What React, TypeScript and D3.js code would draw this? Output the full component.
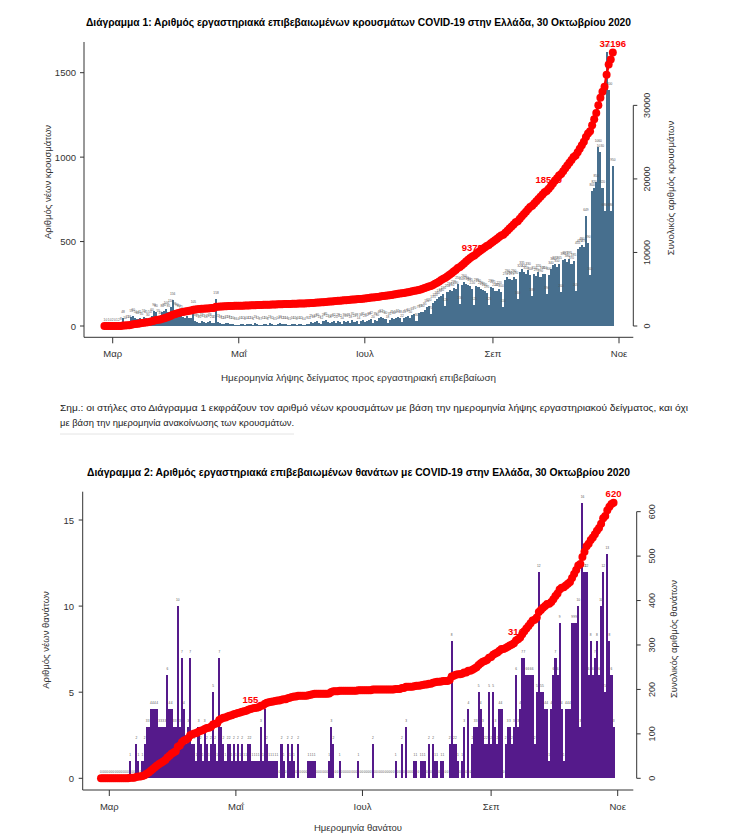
import * as d3 from "d3";

// ---- data ----
const START_DATE = "2020-02-26";
const MONTH_TICKS = ["2020-03-01", "2020-05-01", "2020-07-01", "2020-09-01", "2020-11-01"];
const MONTH_LABELS = ["Μαρ", "Μαΐ", "Ιουλ", "Σεπ", "Νοε"];

// new lab-confirmed cases per sampling day, Feb 26 – Oct 29
const NEW_CASES = [
  // Feb 26 – Mar 4
  1, 0, 1, 0, 2, 0, 1, 2,
  // Mar 5 – 11
  8, 48, 10, 15, 18, 55, 60,
  // Mar 12 – 18
  50, 40, 45, 35, 55, 45, 30,
  // Mar 19 – 24
  50, 60, 90, 80, 55, 40,
  // Mar 25 – Apr 3
  80, 90, 100, 85, 110, 156, 95, 90, 80, 75,
  // Apr 4 – 9
  55, 50, 60, 45, 50, 105,
  // Apr 10 – 19
  30, 25, 20, 32, 22, 15, 25, 28, 20, 15,
  // Apr 20
  158,
  // Apr 21 – 26
  22, 18, 12, 10, 15, 18,
  // Apr 27 – May 12
  12, 10, 8, 6, 4, 10, 12, 8, 14, 12, 10, 6, 15, 12, 8, 7,
  // May 13 – 28
  12, 10, 8, 15, 12, 6, 5, 14, 16, 12, 10, 14, 6, 5, 10, 12,
  // May 29 – Jun 13
  8, 10, 12, 6, 4, 9, 14, 25, 18, 22, 30, 15, 12, 28, 35, 22,
  // Jun 14 – 26
  18, 25, 32, 20, 28, 22, 14, 30, 25, 28, 18, 35, 22,
  // Jun 27 – Jul 12
  28, 14, 30, 35, 25, 32, 38, 42, 20, 35, 30, 48, 52, 45, 40, 18,
  // Jul 13 – 28
  35, 45, 40, 50, 55, 48, 22, 45, 55, 60, 50, 65, 70, 30, 75, 85,
  // Jul 29 – Aug 23
  80, 95, 110, 120, 70, 135, 150, 160, 170, 180, 190, 120, 200,
  215, 210, 225, 220, 250, 130, 245, 260, 250, 240, 235, 220, 125,
  // Aug 24 – 30
  235, 230, 220, 215, 205, 195, 125,
  // Aug 31 – Sep 6
  230, 225, 210, 205, 220, 200, 110,
  // Sep 7 – 13
  270, 290, 280, 275, 290, 280, 160,
  // Sep 14 – 20
  320, 335, 320, 310, 330, 300, 180,
  // Sep 21 – 27
  310, 295, 320, 290, 305, 310, 190,
  // Sep 28 – Oct 4
  300, 340, 360, 370, 350, 365, 200,
  // Oct 5 – 11
  390, 395, 380, 395, 370, 385, 205,
  // Oct 12 – 18
  455, 470, 480, 470, 649, 490, 300,
  // Oct 19 – 25
  800, 820, 850, 1060, 1030, 820, 680,
  // Oct 26 – 29
  1620, 1400, 680, 950,
];

// new lab-confirmed deaths per day of death, Feb 26 – Oct 30
const NEW_DEATHS = [
  0, 0, 0, 0, 0, 0, 0, 0, 0, 0,
  0, 0, 0, 0, 1, 0, 0, 2, 1, 0,
  1, 2, 3, 3, 4, 4, 4, 4, 3, 3,
  3, 3, 6, 4, 4, 3, 3, 10, 3, 7,
  4, 2, 3, 7, 2, 2, 1, 3, 2, 1,
  3, 2, 1, 2, 5, 2, 1, 7, 3, 2,
  1, 2, 2, 1, 2, 1, 2, 1, 2, 1,
  1, 2, 2, 1, 1, 1, 1, 3, 1, 4,
  2, 1, 1, 1, 1, 1, 0, 2, 1, 0,
  2, 1, 2, 1, 0, 2, 0, 0, 0, 0,
  1, 1, 1, 1, 0, 0, 0, 0, 0, 0,
  1, 3, 2, 0, 0, 1, 0, 0, 0, 0,
  0, 0, 0, 0, 1, 0, 0, 0, 0, 0,
  0, 2, 0, 0, 0, 0, 0, 0, 0, 0,
  0, 0, 1, 0, 0, 2, 0, 3, 0, 0,
  0, 1, 1, 0, 1, 1, 1, 0, 2, 0,
  2, 1, 1, 0, 1, 1, 0, 0, 2, 8,
  2, 2, 1, 0, 1, 3, 0, 4, 0, 2,
  3, 3, 5, 4, 3, 2, 2, 5, 2, 5,
  3, 2, 4, 4, 0, 2, 3, 3, 2, 3,
  6, 3, 4, 7, 7, 6, 6, 6, 6, 2,
  5, 12, 5, 5, 4, 4, 1, 4, 6, 7,
  6, 9, 4, 1, 4, 4, 4, 9, 9, 9,
  10, 3, 16, 12, 12, 6, 8, 6, 7, 8,
  6, 10, 12, 5, 13, 8, 6, 3,
];

const CASES_LEFT_TICKS = [0, 500, 1000, 1500];
const CASES_RIGHT_TICKS = [0, 10000, 20000, 30000];
const DEATHS_LEFT_TICKS = [0, 5, 10, 15];
const DEATHS_RIGHT_TICKS = [0, 100, 200, 300, 400, 500, 600];

// cumulative values written on the red curve (quarter, half, total)
const CASES_MARKS = [9378, 18500, 37196];
const DEATHS_MARKS = [155, 310, 620];

const TITLE_1 =
  "Διάγραμμα 1: Αριθμός εργαστηριακά επιβεβαιωμένων κρουσμάτων COVID-19 στην Ελλάδα, 30 Οκτωβρίου 2020";
const TITLE_2 =
  "Διάγραμμα 2: Αριθμός εργαστηριακά επιβεβαιωμένων θανάτων με COVID-19 στην Ελλάδα, 30 Οκτωβρίου 2020";
const NOTE_1 =
  "Σημ.: οι στήλες στο Διάγραμμα 1 εκφράζουν τον αριθμό νέων κρουσμάτων με βάση την ημερομηνία λήψης εργαστηριακού δείγματος, και όχι";
const NOTE_2 = "με βάση την ημερομηνία ανακοίνωσης των κρουσμάτων.";

const W = 734;
const H = 836;
const FONT = "'Liberation Sans Narrow', 'Liberation Sans', Arial, sans-serif";
const INK = "#333";
const RED = "#ff0000";

const utc = (s: string) => new Date(s + "T00:00:00Z");

type Geo = {
  left: number;
  right: number;
  top: number;
  bottom: number;
  xMar: number;
  xNov: number;
  yZero: number;
  yRef: number;
  refVal: number;
  rightAxisX: number;
  rightLabelX: number;
  rightTitleX: number;
  rightTitleY: number;
  leftTitleX: number;
  leftTitleY: number;
  leftLabelX: number;
  tickLabelY: number;
  xTitleX: number;
  xTitleY: number;
  xTitleLen: number;
};

type PanelProps = {
  values: number[];
  color: string;
  g: Geo;
  leftTicks: number[];
  rightTicks: number[];
  marks: number[];
  leftTitle: string;
  rightTitle: string;
  xTitle: string;
};

function Panel({ values, color, g, leftTicks, rightTicks, marks, leftTitle, rightTitle, xTitle }: PanelProps) {
  const start = utc(START_DATE);
  const dates = values.map((_, i) => d3.utcDay.offset(start, i));
  const monthDates = MONTH_TICKS.map(utc);

  const x = d3
    .scaleUtc()
    .domain([monthDates[0], monthDates[monthDates.length - 1]])
    .range([g.xMar, g.xNov]);
  const y = d3.scaleLinear().domain([0, g.refVal]).range([g.yZero, g.yRef]);

  const cum = Array.from(d3.cumsum(values));
  const cumMax = cum[cum.length - 1];
  // cumulative curve shares the plot: its maximum sits level with the tallest bar
  const yc = d3
    .scaleLinear()
    .domain([0, cumMax])
    .range([g.yZero, y(d3.max(values) ?? 0)]);

  const step = x(dates[1]) - x(dates[0]);
  const line = d3
    .line<number>()
    .x((_, i) => x(dates[i]))
    .y((c) => yc(c));

  const markIdx = marks.map((m, k) => {
    if (k === marks.length - 1) return cum.length - 1;
    const i = cum.findIndex((c) => c >= m);
    return i < 0 ? cum.length - 1 : i;
  });

  return (
    <g>
      {/* bars */}
      <g fill={color} shapeRendering="crispEdges">
        {values.map((v, i) => (
          <rect
            key={i}
            x={x(dates[i]) - step / 2}
            y={y(v)}
            width={step + 0.02}
            height={Math.max(0, g.yZero - y(v))}
          />
        ))}
      </g>
      {/* tiny value labels above each bar */}
      <g fontSize={3.2} fill="#555" textAnchor="middle">
        {values.map((v, i) => (
          <text key={i} x={x(dates[i])} y={y(v) - 5}>
            {v}
          </text>
        ))}
      </g>
      {/* milestone labels on the curve */}
      <g fontSize={9.5} fontWeight="bold" fill={RED} textAnchor="middle">
        {marks.map((m, k) => (
          <text key={k} x={x(dates[markIdx[k]])} y={yc(cum[markIdx[k]]) - 5.5}>
            {m}
          </text>
        ))}
      </g>
      {/* cumulative curve */}
      <path d={line(cum) ?? ""} fill="none" stroke={RED} strokeWidth={2.5} />
      <g fill={RED}>
        {cum.map((c, i) => (
          <circle key={i} cx={x(dates[i])} cy={yc(c)} r={4} />
        ))}
      </g>

      {/* axes frame (L shape) */}
      <g stroke={INK} strokeWidth={1} fill="none">
        <line x1={g.left} x2={g.left} y1={g.top} y2={g.bottom} />
        <line x1={g.left} x2={g.right} y1={g.bottom} y2={g.bottom} />
        {leftTicks.map((t) => (
          <line key={t} x1={g.left - 4} x2={g.left} y1={y(t)} y2={y(t)} />
        ))}
        {monthDates.map((d, i) => (
          <line key={i} x1={x(d)} x2={x(d)} y1={g.bottom} y2={g.bottom + 6} />
        ))}
        <line
          x1={g.rightAxisX}
          x2={g.rightAxisX}
          y1={yc(rightTicks[0])}
          y2={yc(rightTicks[rightTicks.length - 1])}
        />
        {rightTicks.map((t) => (
          <line key={t} x1={g.rightAxisX} x2={g.rightAxisX + 4} y1={yc(t)} y2={yc(t)} />
        ))}
      </g>

      <g fill={INK} fontSize={9.5}>
        {leftTicks.map((t) => (
          <text key={t} x={g.leftLabelX} y={y(t)} textAnchor="end" dominantBaseline="central">
            {t}
          </text>
        ))}
        {monthDates.map((d, i) => (
          <text key={i} x={x(d)} y={g.tickLabelY} textAnchor="middle">
            {MONTH_LABELS[i]}
          </text>
        ))}
        {rightTicks.map((t) => (
          <text
            key={t}
            transform={`translate(${g.rightLabelX},${yc(t)}) rotate(-90)`}
            textAnchor="middle"
            dominantBaseline="central"
            fontSize={9}
          >
            {t}
          </text>
        ))}
        <text
          transform={`translate(${g.leftTitleX},${g.leftTitleY}) rotate(-90)`}
          textAnchor="middle"
          dominantBaseline="central"
        >
          {leftTitle}
        </text>
        <text
          transform={`translate(${g.rightTitleX},${g.rightTitleY}) rotate(-90)`}
          textAnchor="middle"
          dominantBaseline="central"
        >
          {rightTitle}
        </text>
        <text
          x={g.xTitleX}
          y={g.xTitleY}
          textAnchor="middle"
          textLength={g.xTitleLen}
          lengthAdjust="spacingAndGlyphs"
        >
          {xTitle}
        </text>
      </g>
    </g>
  );
}

const GEO_1: Geo = {
  left: 84,
  right: 633.3,
  top: 42,
  bottom: 337.3,
  xMar: 112.7,
  xNov: 619,
  yZero: 326,
  yRef: 72.7,
  refVal: 1500,
  rightAxisX: 633.3,
  rightLabelX: 646.7,
  rightTitleX: 670,
  rightTitleY: 188,
  leftTitleX: 47,
  leftTitleY: 182,
  leftLabelX: 76,
  tickLabelY: 356.5,
  xTitleX: 358.5,
  xTitleY: 381,
  xTitleLen: 275,
};

const GEO_2: Geo = {
  left: 82.7,
  right: 633.3,
  top: 491.7,
  bottom: 790,
  xMar: 109.3,
  xNov: 617.7,
  yZero: 778.3,
  yRef: 520,
  refVal: 15,
  rightAxisX: 636.7,
  rightLabelX: 651.7,
  rightTitleX: 673,
  rightTitleY: 639,
  leftTitleX: 45,
  leftTitleY: 640,
  leftLabelX: 74,
  tickLabelY: 809.5,
  xTitleX: 358,
  xTitleY: 831,
  xTitleLen: 88,
};

export default function App() {
  return (
    <svg
      width={W}
      height={H}
      viewBox={`0 0 ${W} ${H}`}
      fontFamily={FONT}
      style={{ position: "absolute", left: 0, top: 0, display: "block", background: "#fff" }}
    >
      <rect width={W} height={H} fill="#fff" />

      <text
        x={358.5}
        y={26}
        textAnchor="middle"
        fontWeight="bold"
        fontSize={11}
        textLength={545}
        lengthAdjust="spacingAndGlyphs"
      >
        {TITLE_1}
      </text>
      <Panel
        values={NEW_CASES}
        color="#476f8e"
        g={GEO_1}
        leftTicks={CASES_LEFT_TICKS}
        rightTicks={CASES_RIGHT_TICKS}
        marks={CASES_MARKS}
        leftTitle="Αριθμός νέων κρουσμάτων"
        rightTitle="Συνολικός αριθμός κρουσμάτων"
        xTitle="Ημερομηνία λήψης δείγματος προς εργαστηριακή επιβεβαίωση"
      />

      <g fontSize={9.5} fill="#222">
        <text x={60} y={411} textLength={628} lengthAdjust="spacingAndGlyphs">
          {NOTE_1}
        </text>
        <text x={60} y={426} textLength={234} lengthAdjust="spacingAndGlyphs">
          {NOTE_2}
        </text>
      </g>
      <line x1={60} x2={294} y1={434} y2={434} stroke="#e4e4e4" strokeWidth={1} />

      <text
        x={358.5}
        y={476}
        textAnchor="middle"
        fontWeight="bold"
        fontSize={11}
        textLength={543}
        lengthAdjust="spacingAndGlyphs"
      >
        {TITLE_2}
      </text>
      <Panel
        values={NEW_DEATHS}
        color="#551a8b"
        g={GEO_2}
        leftTicks={DEATHS_LEFT_TICKS}
        rightTicks={DEATHS_RIGHT_TICKS}
        marks={DEATHS_MARKS}
        leftTitle="Αριθμός νέων θανάτων"
        rightTitle="Συνολικός αριθμός θανάτων"
        xTitle="Ημερομηνία θανάτου"
      />
    </svg>
  );
}
